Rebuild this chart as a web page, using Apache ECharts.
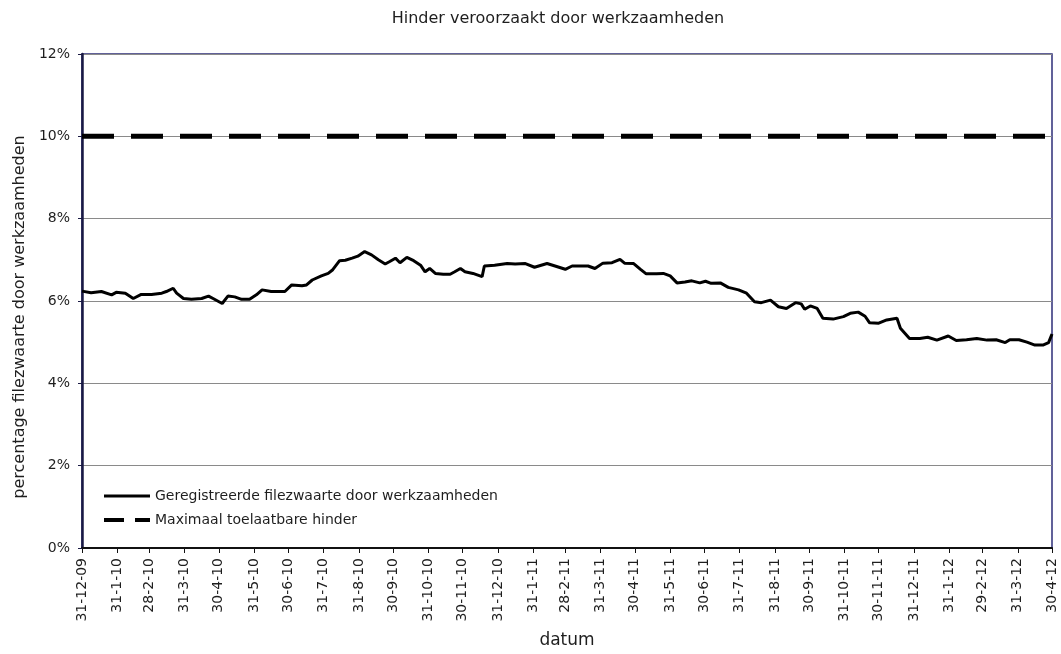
<!DOCTYPE html>
<html>
<head>
<meta charset="utf-8">
<title>Hinder veroorzaakt door werkzaamheden</title>
<script src="https://cdn.jsdelivr.net/npm/echarts@6/dist/echarts.min.js"></script>
<style>
  html, body { margin: 0; padding: 0; background: #fff; }
  #chart { width: 1061px; height: 654px; }
</style>
</head>
<body>
<div id="chart"></div>
<script>
// maand-einden op de x-as (d-m-jj)
const tickLabels = [
  '31-12-09', '31-1-10', '28-2-10', '31-3-10', '30-4-10', '31-5-10', '30-6-10',
  '31-7-10', '31-8-10', '30-9-10', '31-10-10', '30-11-10', '31-12-10', '31-1-11',
  '28-2-11', '31-3-11', '30-4-11', '31-5-11', '30-6-11', '31-7-11', '31-8-11',
  '30-9-11', '31-10-11', '30-11-11', '31-12-11', '31-1-12', '29-2-12', '31-3-12',
  '30-4-12'
];

const sampleDays = [
  0, 8, 17, 26, 30, 38, 45, 52, 61, 70, 74, 80, 83, 89, 96, 105, 111, 115, 123, 128,
  134, 140, 147, 153, 158, 166, 174, 178, 184, 193, 197, 202, 210, 216, 220, 226, 231, 237, 242, 248,
  254, 260, 266, 270, 275, 279, 285, 291, 297, 301, 305, 310, 317, 323, 327, 332, 336, 343, 351, 353,
  362, 373, 380, 389, 397, 408, 415, 424, 430, 440, 444, 450, 457, 465, 472, 476, 484, 490, 495, 504,
  510, 516, 522, 529, 535, 542, 547, 552, 560, 567, 576, 583, 590, 596, 604, 611, 618, 626, 631, 634,
  639, 645, 650, 659, 668, 674, 681, 687, 691, 699, 706, 715, 718, 726, 735, 742, 750, 760, 767, 776,
  785, 794, 802, 810, 814, 822, 829, 836, 843, 848, 851
];
const sampleValues = [
  6.24, 6.20, 6.23, 6.15, 6.21, 6.19, 6.06, 6.16, 6.16, 6.19, 6.23, 6.31, 6.19, 6.06, 6.04, 6.06, 6.12, 6.06, 5.94, 6.12,
  6.10, 6.04, 6.04, 6.15, 6.27, 6.23, 6.23, 6.23, 6.39, 6.37, 6.39, 6.51, 6.61, 6.67, 6.76, 6.98, 6.99, 7.04, 7.09, 7.20,
  7.12, 7.00, 6.90, 6.96, 7.04, 6.93, 7.06, 6.98, 6.87, 6.71, 6.79, 6.67, 6.65, 6.65, 6.71, 6.79, 6.71, 6.67, 6.59, 6.85,
  6.87, 6.91, 6.90, 6.91, 6.82, 6.91, 6.85, 6.77, 6.85, 6.85, 6.85, 6.79, 6.92, 6.93, 7.01, 6.92, 6.91, 6.77, 6.66, 6.66,
  6.67, 6.61, 6.44, 6.46, 6.49, 6.44, 6.48, 6.43, 6.44, 6.33, 6.27, 6.19, 5.98, 5.96, 6.02, 5.86, 5.82, 5.96, 5.93, 5.80,
  5.88, 5.82, 5.58, 5.56, 5.62, 5.70, 5.73, 5.63, 5.47, 5.46, 5.54, 5.58, 5.34, 5.09, 5.09, 5.12, 5.05, 5.15, 5.04, 5.06,
  5.09, 5.05, 5.06, 4.99, 5.06, 5.06, 5.00, 4.93, 4.93, 4.99, 5.20
];

const maxHinder = 10; // maximaal toelaatbare hinder (%)

const seriesNames = ['Geregistreerde filezwaarte door werkzaamheden', 'Maximaal toelaatbare hinder'];

// label 'd-m-jj' -> dagnummer t.o.v. eerste label
function labelToDate(lbl) {
  const p = lbl.split('-').map(Number);
  return Date.UTC(2000 + p[2], p[1] - 1, p[0]);
}
const day0 = labelToDate(tickLabels[0]);
const tickDays = tickLabels.map(l => Math.round((labelToDate(l) - day0) / 86400000));
const lastDay = tickDays[tickDays.length - 1];

const lineData = sampleDays.map((d, i) => [d, sampleValues[i]]);
const maxData = [[0, maxHinder], [lastDay, maxHinder]];

const textColor = '#1e1e1e';
const font = '"DejaVu Sans", Verdana, sans-serif';
const hideSymbol = { color: 'rgba(0,0,0,0)', borderWidth: 0, opacity: 0 };

const chart = echarts.init(document.getElementById('chart'));

chart.setOption({
  animation: false,
  backgroundColor: '#fff',
  title: {
    text: 'Hinder veroorzaakt door werkzaamheden',
    left: 553,
    top: 6,
    textAlign: 'center',
    textStyle: { fontFamily: font, fontSize: 16, fontWeight: 'normal', color: textColor }
  },
  grid: {
    left: 82,
    right: 9,
    top: 54,
    bottom: 106,
    show: true,
    borderColor: '#2e2e78',
    borderWidth: 1.5,
    backgroundColor: 'transparent'
  },
  legend: {
    orient: 'vertical',
    left: 97,
    top: 484,
    itemWidth: 46,
    itemHeight: 14,
    itemGap: 10,
    textStyle: { fontFamily: font, fontSize: 14, color: textColor },
    data: [
      { name: seriesNames[0], lineStyle: { width: 3 }, itemStyle: hideSymbol },
      { name: seriesNames[1], lineStyle: { width: 4, type: [20, 11] }, itemStyle: hideSymbol }
    ]
  },
  xAxis: {
    type: 'value',
    min: 0,
    max: lastDay,
    name: 'datum',
    nameLocation: 'middle',
    nameGap: 84,
    nameTextStyle: { fontFamily: font, fontSize: 17, color: textColor },
    axisLine: { lineStyle: { color: '#111', width: 2 } },
    axisTick: { show: true, length: 5, customValues: tickDays, lineStyle: { color: '#111' } },
    axisLabel: {
      customValues: tickDays,
      rotate: 90,
      margin: 10,
      fontFamily: font,
      fontSize: 14,
      color: textColor,
      formatter: function (v) {
        const i = tickDays.indexOf(Math.round(v));
        return i >= 0 ? tickLabels[i] : '';
      }
    },
    splitLine: { show: false }
  },
  yAxis: {
    type: 'value',
    min: 0,
    max: 12,
    interval: 2,
    name: 'percentage filezwaarte door werkzaamheden',
    nameLocation: 'middle',
    nameGap: 54,
    nameTextStyle: { fontFamily: font, fontSize: 16, color: textColor, padding: [0, 32, 0, 0] },
    axisLine: { show: true, lineStyle: { color: '#1a1a44', width: 2.5 } },
    axisTick: { show: true, length: 4, lineStyle: { color: '#1a1a44' } },
    axisLabel: {
      margin: 12,
      fontFamily: font,
      fontSize: 14,
      color: textColor,
      formatter: '{value}%'
    },
    splitLine: { show: true, lineStyle: { color: '#8a8a8a', width: 1 } }
  },
  series: [
    {
      name: seriesNames[0],
      type: 'line',
      data: lineData,
      symbol: 'none',
      lineStyle: { color: '#000', width: 3 },
      itemStyle: { color: '#000' },
      z: 3
    },
    {
      name: seriesNames[1],
      type: 'line',
      data: maxData,
      symbol: 'none',
      lineStyle: { color: '#000', width: 5, type: [32, 17] },
      itemStyle: { color: '#000' },
      z: 2
    }
  ]
});
</script>
</body>
</html>
